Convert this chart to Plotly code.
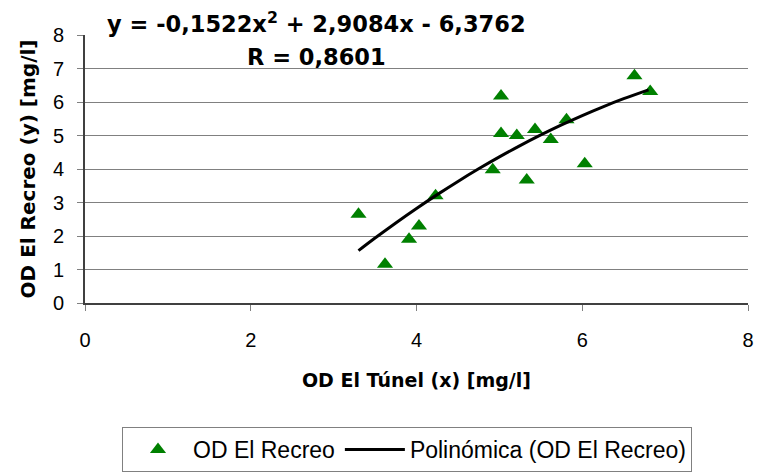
import plotly.graph_objects as go

od_tunel = [3.30, 3.62, 3.91, 4.03, 4.23, 4.92, 5.02, 5.02, 5.21, 5.33, 5.43, 5.62, 5.81, 6.03, 6.63, 6.82]
od_recreo = [2.65, 1.16, 1.90, 2.30, 3.20, 3.98, 6.18, 5.06, 5.00, 3.67, 5.18, 4.88, 5.47, 4.16, 6.78, 6.31]

# Polynomial trendline points (as drawn)
trend_x = [3.3, 3.5, 3.75, 4.0, 4.25, 4.5, 4.75, 5.0, 5.25, 5.5, 5.75, 6.0, 6.25, 6.5, 6.8]
trend_y = [1.564, 1.939, 2.390, 2.822, 3.235, 3.630, 4.005, 4.361, 4.698, 5.016, 5.315, 5.595, 5.856, 6.098, 6.363]

x_ticks = [0, 2, 4, 6, 8]
y_ticks = [0, 1, 2, 3, 4, 5, 6, 7, 8]

FONT = "DejaVu Sans"
ARIAL = "Liberation Sans"

fig = go.Figure()
fig.add_trace(go.Scatter(
    x=od_tunel, y=od_recreo, mode="markers", name="OD El Recreo",
    marker=dict(symbol="triangle-up", size=14, color="#008000", line=dict(width=0)),
))
fig.add_trace(go.Scatter(
    x=trend_x, y=trend_y, mode="lines", name="Polinómica (OD El Recreo)",
    line=dict(color="black", width=3, shape="spline"),
))

fig.update_layout(
    width=760, height=474,
    margin=dict(l=85, r=12, t=35, b=171, autoexpand=False),
    paper_bgcolor="white", plot_bgcolor="white",
    font=dict(family=ARIAL, size=20, color="black"),
    showlegend=True,
    legend=dict(
        orientation="h", x=(122 - 85) / 663, xanchor="left", y=(303 - 472) / 268, yanchor="bottom",
        bordercolor="#808080", borderwidth=1, font=dict(family=ARIAL, size=23),
        itemwidth=60,
    ),
    xaxis=dict(
        range=[0, 8], tickvals=x_ticks, ticktext=[str(v) for v in x_ticks],
        showgrid=False, zeroline=False,
        showline=True, linecolor="#404040", linewidth=2,
        ticks="outside", ticklen=6, tickcolor="#808080", tickwidth=1,
        ticklabelstandoff=12,
        tickfont=dict(family=ARIAL, size=20),
        title=dict(text="<b>OD El Túnel (x) [mg/l]</b>", font=dict(family=FONT, size=19), standoff=24),
    ),
    yaxis=dict(
        range=[0, 8], tickvals=y_ticks, ticktext=[str(v) for v in y_ticks],
        showgrid=True, gridcolor="#808080", gridwidth=1, zeroline=False,
        showline=True, linecolor="#404040", linewidth=2,
        ticks="outside", ticklen=6, tickcolor="#808080", tickwidth=1,
        ticklabelstandoff=9,
        tickfont=dict(family=ARIAL, size=20),
        title=dict(text="<b>OD El Recreo (y) [mg/l]</b>", font=dict(family=FONT, size=20), standoff=12),
    ),
)

fig.add_annotation(
    text="<b>y = -0,1522x<sup>2</sup> + 2,9084x - 6,3762</b>",
    xref="paper", yref="paper", x=(316 - 85) / 663, y=(303 - 22) / 268,
    xanchor="center", yanchor="middle", showarrow=False,
    font=dict(family=FONT, size=22.5, color="black"),
)
fig.add_annotation(
    text="<b>R = 0,8601</b>",
    xref="paper", yref="paper", x=(316 - 85) / 663, y=(303 - 57) / 268,
    xanchor="center", yanchor="middle", showarrow=False,
    font=dict(family=FONT, size=22.5, color="black"),
)

fig.write_html("out.html")
